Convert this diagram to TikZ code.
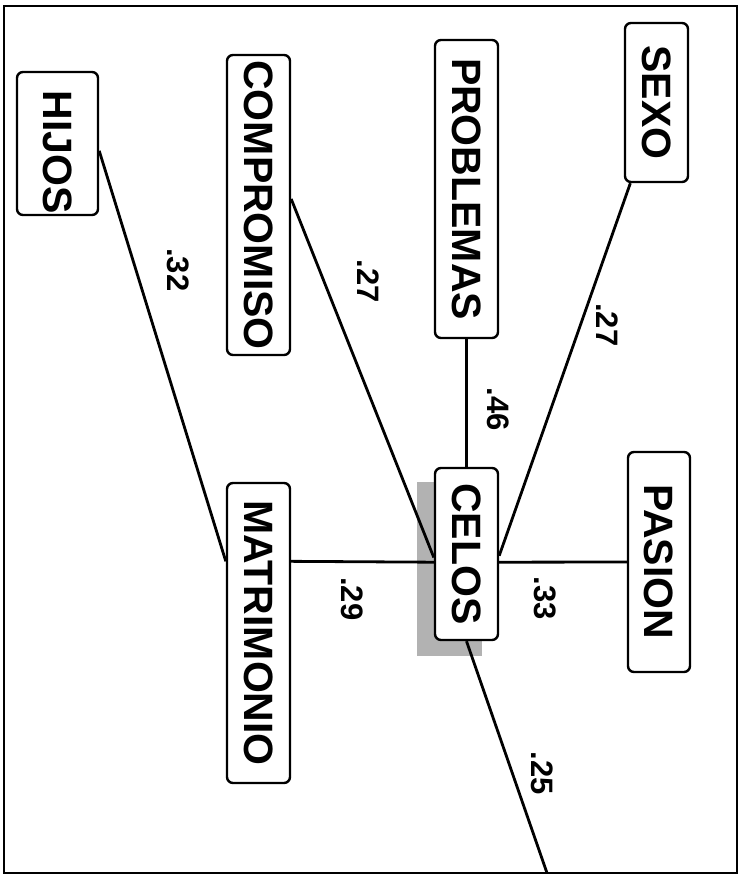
\documentclass[tikz,border=0pt]{standalone}
\usepackage{fontspec}
\setmainfont{Liberation Sans}
\usetikzlibrary{calc,backgrounds}

\begin{document}
\begin{tikzpicture}[x=0.5pt,y=-0.5pt,line width=1.2pt,
  every node/.append style={font=\bfseries}]
  \tikzstyle{word} = [draw,fill=white,rounded corners=3pt,rotate=-90,inner sep=0pt,font=\fontsize{20.5}{24}\selectfont\bfseries]
  \tikzstyle{val} = [rotate=-90,inner sep=0pt,font=\fontsize{15.5}{18}\selectfont\bfseries]
  \tikzstyle{link} = [line width=1.4pt]
  \useasboundingbox (0,0) rectangle (745,876);
  \draw (4,6) rectangle (737,873);
  \node (hijos) [word,minimum width=71.5pt,minimum height=40.5pt,text width=70pt,align=right] at (57.5,143.5) {HIJOS};
  \node (compromiso) [word,minimum width=150pt,minimum height=31.5pt] at (258.5,205) {COMPROMISO};
  \node (problemas) [word,minimum width=149pt,minimum height=31.5pt] at (466.5,189) {PROBLEMAS};
  \node (sexo) [word,minimum width=79.5pt,minimum height=31.5pt] at (656.5,102.5) {SEXO};
  \node (celos) [word,minimum width=86pt,minimum height=31.5pt] at (466.5,554) {CELOS};
  \node (pasion) [word,minimum width=110pt,minimum height=31pt] at (659,562) {PASION};
  \node (matrimonio) [word,minimum width=150pt,minimum height=31.5pt] at (258.5,633) {MATRIMONIO};
  \coordinate (fin) at (547,873);
  \begin{pgfonlayer}{background}
    \fill[gray!60] ($(celos.south west)+(-17,15)$) rectangle ($(celos.north east)+(-17,15)$);
  \end{pgfonlayer}
  \draw[link] ($(hijos.north west)!0.55!(hijos.north east)$) -- node (v_hm) [xshift=21pt,val,pos=0.29] {.32} ($(matrimonio.south west)!0.263!(matrimonio.south east)$);
  \draw[link] ($(compromiso.north west)!0.48!(compromiso.north east)$) -- node (v_cc) [xshift=22pt,val,pos=0.23] {.27} ($(celos.south west)!0.52!(celos.south east)$);
  \draw[link] (problemas.east) -- node (v_pc) [xshift=15.75pt,val,pos=0.55] {.46} (celos.west);
  \draw[link] ($(sexo.south east)!0.1!(sexo.north east)$) -- node (v_sc) [xshift=13.5pt,val,pos=0.38] {.27} ($(celos.north west)!0.51!(celos.north east)$);
  \draw[link] ($(celos.north west)!0.547!(celos.north east)$) -- node (v_cp) [yshift=-18pt,val,pos=0.36] {.33} (pasion.south);
  \draw[link] ($(matrimonio.north west)!0.263!(matrimonio.north east)$) -- node (v_mc) [yshift=-18.5pt,val,pos=0.43] {.29} ($(celos.south west)!0.547!(celos.south east)$);
  \draw[link] (celos.east) -- node (v_cf) [xshift=14.75pt,val,pos=0.57] {.25} (fin);
\end{tikzpicture}
\end{document}
